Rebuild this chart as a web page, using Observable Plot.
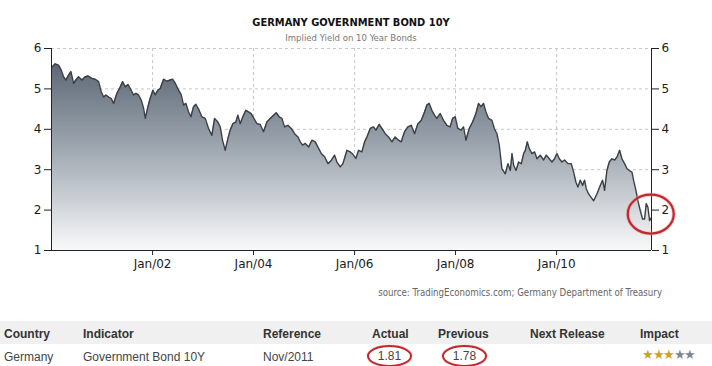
<!DOCTYPE html>
<html>
<head>
<meta charset="utf-8">
<script src="https://cdn.jsdelivr.net/npm/d3@7"></script>
<script src="https://cdn.jsdelivr.net/npm/@observablehq/plot@0.6"></script>
<style>
  html, body { margin: 0; padding: 0; background: #fff; }
  #wrap { position: relative; width: 712px; height: 366px; overflow: hidden; background: #fff; }
  #chart { position: absolute; left: 0; top: 0; }
  .title { position: absolute; left: 51px; width: 600px; text-align: center; font-family: "DejaVu Sans Condensed", "DejaVu Sans", sans-serif; font-stretch: condensed; }
  #t1 { top: 16px; font-size: 11px; font-weight: bold; color: #111; }
  #t2 { top: 32px; font-size: 9.5px; color: #777; }
  #src { position: absolute; right: 50px; top: 287px; font-family: "DejaVu Sans Condensed", "DejaVu Sans", sans-serif; font-stretch: condensed; font-size: 9.6px; color: #666; }
  .row { position: absolute; left: 0; width: 712px; font-family: "Liberation Sans", Arial, sans-serif; font-size: 12px; }
  #head { top: 321px; height: 23px; background: #f0f0f0; color: #333; font-weight: bold; }
  #data { top: 344px; height: 22px; background: #fff; color: #444; }
  .cell { position: absolute; top: 6px; white-space: nowrap; }
  .circ { position: absolute; left: 0; top: -5px; width: 41px; height: 18px; line-height: 18px; text-align: center;
          border: 2px solid #c3262c; border-radius: 50%; box-shadow: 0 0 1.5px rgba(195,38,44,0.6); }
  .star-on { color: #c9a227; }
  .star-off { color: #7f8597; }
</style>
</head>
<body>
<div id="wrap">
  <div id="chart"></div>
  <div class="title" id="t1"></div>
  <div class="title" id="t2"></div>
  <div id="src"></div>
  <div class="row" id="head"></div>
  <div class="row" id="data"></div>
</div>
<script>
// ---- data ----
const titleText = "GERMANY GOVERNMENT BOND 10Y";
const subtitleText = "Implied Yield on 10 Year Bonds";
const sourceText = "source: TradingEconomics.com; Germany Department of Treasury";

// decimal-year time stamps
const t = [
  2000.020, 2000.073, 2000.139, 2000.191, 2000.238, 2000.284, 2000.337, 2000.383, 2000.436, 2000.482,
  2000.535, 2000.601, 2000.667, 2000.719, 2000.799, 2000.865, 2000.931, 2000.983, 2001.030, 2001.076,
  2001.129, 2001.182, 2001.228, 2001.294, 2001.360, 2001.406, 2001.459, 2001.512, 2001.558, 2001.624,
  2001.670, 2001.723, 2001.776, 2001.822, 2001.855, 2001.901, 2001.941, 2002.007, 2002.053, 2002.106,
  2002.152, 2002.218, 2002.284, 2002.350, 2002.396, 2002.449, 2002.515, 2002.568, 2002.614, 2002.660,
  2002.713, 2002.759, 2002.812, 2002.858, 2002.911, 2002.977, 2003.043, 2003.109, 2003.175, 2003.228,
  2003.294, 2003.340, 2003.386, 2003.439, 2003.492, 2003.538, 2003.591, 2003.650, 2003.690, 2003.736,
  2003.789, 2003.848, 2003.901, 2003.954, 2004.007, 2004.066, 2004.132, 2004.198, 2004.264, 2004.330,
  2004.396, 2004.449, 2004.508, 2004.561, 2004.614, 2004.680, 2004.746, 2004.812, 2004.878, 2004.924,
  2004.970, 2005.023, 2005.089, 2005.155, 2005.221, 2005.274, 2005.340, 2005.406, 2005.472, 2005.538,
  2005.604, 2005.650, 2005.716, 2005.769, 2005.848, 2005.914, 2005.967, 2006.026, 2006.079, 2006.145,
  2006.198, 2006.244, 2006.310, 2006.376, 2006.422, 2006.488, 2006.541, 2006.607, 2006.673, 2006.739,
  2006.805, 2006.871, 2006.924, 2006.990, 2007.056, 2007.122, 2007.188, 2007.254, 2007.320, 2007.386,
  2007.432, 2007.479, 2007.531, 2007.584, 2007.630, 2007.696, 2007.762, 2007.828, 2007.894, 2007.941,
  2007.993, 2008.046, 2008.112, 2008.158, 2008.205, 2008.271, 2008.337, 2008.403, 2008.455, 2008.502,
  2008.554, 2008.601, 2008.653, 2008.719, 2008.766, 2008.818, 2008.865, 2008.917, 2008.983, 2009.036,
  2009.083, 2009.116, 2009.149, 2009.195, 2009.248, 2009.300, 2009.347, 2009.380, 2009.419, 2009.459,
  2009.512, 2009.564, 2009.611, 2009.677, 2009.743, 2009.795, 2009.855, 2009.908, 2009.960, 2010.007,
  2010.053, 2010.106, 2010.158, 2010.224, 2010.290, 2010.337, 2010.383, 2010.422, 2010.469, 2010.515,
  2010.554, 2010.587, 2010.634, 2010.733, 2010.799, 2010.865, 2010.911, 2010.950, 2010.997, 2011.043,
  2011.096, 2011.149, 2011.195, 2011.248, 2011.294, 2011.347, 2011.393, 2011.439, 2011.492, 2011.525,
  2011.571, 2011.611, 2011.657, 2011.703, 2011.743, 2011.776, 2011.809, 2011.842, 2011.875
];
// yield, percent
const yieldPct = [
  5.55, 5.62, 5.59, 5.47, 5.30, 5.22, 5.34, 5.43, 5.14, 5.22,
  5.30, 5.22, 5.30, 5.32, 5.26, 5.24, 5.18, 4.93, 4.80, 4.85,
  4.80, 4.76, 4.64, 4.89, 5.05, 5.18, 5.05, 5.11, 5.01, 4.85,
  4.89, 4.85, 4.72, 4.52, 4.27, 4.52, 4.72, 4.97, 4.85, 4.97,
  5.01, 5.24, 5.19, 5.22, 5.24, 5.14, 4.97, 4.85, 4.60, 4.64,
  4.43, 4.31, 4.56, 4.62, 4.50, 4.31, 4.27, 4.02, 3.85, 4.27,
  4.18, 4.06, 3.73, 3.48, 3.77, 3.98, 4.14, 4.18, 4.35, 4.14,
  4.31, 4.47, 4.43, 4.39, 4.27, 4.14, 4.12, 3.94, 4.18, 4.27,
  4.35, 4.41, 4.31, 4.27, 4.06, 4.10, 4.02, 3.89, 3.81, 3.69,
  3.61, 3.65, 3.56, 3.73, 3.69, 3.56, 3.40, 3.32, 3.15, 3.23,
  3.36, 3.19, 3.07, 3.15, 3.48, 3.44, 3.38, 3.28, 3.48, 3.44,
  3.69, 3.81, 4.02, 4.06, 3.98, 4.12, 4.02, 3.89, 3.81, 3.69,
  3.81, 3.73, 3.69, 3.94, 4.06, 4.10, 3.89, 4.14, 4.22, 4.43,
  4.60, 4.64, 4.47, 4.35, 4.27, 4.39, 4.22, 4.10, 4.06, 4.27,
  4.31, 4.02, 3.98, 4.06, 3.73, 4.02, 4.18, 4.39, 4.64, 4.56,
  4.64, 4.43, 4.27, 4.22, 4.02, 3.89, 3.60, 3.02, 2.90, 3.15,
  2.98, 3.40, 3.11, 2.98, 3.19, 3.15, 3.40, 3.48, 3.69, 3.52,
  3.40, 3.44, 3.27, 3.36, 3.24, 3.36, 3.27, 3.19, 3.27, 3.40,
  3.27, 3.19, 3.24, 3.15, 3.15, 2.94, 2.69, 2.57, 2.74, 2.61,
  2.74, 2.53, 2.40, 2.23, 2.40, 2.61, 2.74, 2.49, 2.98, 3.19,
  3.27, 3.24, 3.31, 3.48, 3.27, 3.15, 3.03, 2.98, 2.94, 2.74,
  2.49, 2.23, 1.99, 1.78, 1.78, 2.16, 2.07, 1.74, 1.81
];
const xRange = [2000.0, 2011.88];
const xTickYears = [2002, 2004, 2006, 2008, 2010];
const yTicks = [1, 2, 3, 4, 5, 6];

const tableHeaders = ["Country", "Indicator", "Reference", "Actual", "Previous", "Next Release", "Impact"];
const tableRow = ["Germany", "Government Bond 10Y", "Nov/2011", "1.81", "1.78", "", 3];
const impactMax = 5;

// ---- helpers ----
function toDate(yr) {
  const y = Math.floor(yr);
  const a = Date.UTC(y, 0, 1), b = Date.UTC(y + 1, 0, 1);
  return new Date(a + (yr - y) * (b - a));
}
const data = t.map((d, i) => ({date: toDate(d), v: yieldPct[i]}));
const xDomain = xRange.map(toDate);
const xTicks = xTickYears.map(y => toDate(y));

const font = '"DejaVu Sans", sans-serif';

const plot = Plot.plot({
  width: 712,
  height: 300,
  marginTop: 48,
  marginBottom: 50,
  marginLeft: 51,
  marginRight: 61,
  style: {fontFamily: font, fontSize: "12px", color: "#1a1a1a", background: "transparent"},
  x: {type: "utc", domain: xDomain},
  y: {domain: [1, 6]},
  marks: [
    Plot.gridY(yTicks.slice(1), {stroke: "#c6c6c6", strokeOpacity: 1, strokeDasharray: "3,3"}),
    Plot.gridX(xTicks, {stroke: "#c6c6c6", strokeOpacity: 1, strokeDasharray: "3,3"}),
    Plot.areaY(data, {x: "date", y1: 1, y2: "v", fill: "url(#bondGrad)"}),
    Plot.lineY(data, {x: "date", y: "v", stroke: "#3b3e43", strokeWidth: 1.4}),
    Plot.ruleY([1], {stroke: "#222"}),
    Plot.ruleX(xDomain, {stroke: "#222"}),
    Plot.axisY(yTicks, {anchor: "left", tickSize: 7, tickPadding: 3, label: null, stroke: "#222"}),
    Plot.axisY(yTicks, {anchor: "right", tickSize: 7, tickPadding: 3, label: null, stroke: "#222"}),
    Plot.axisX(xTicks, {anchor: "bottom", tickSize: 5, tickPadding: 4, label: null, tickFormat: d3.utcFormat("%b/%y"), stroke: "#222"})
  ]
});

const svg = d3.select(plot);
const defs = svg.insert("defs", ":first-child");
const grad = defs.append("linearGradient").attr("id", "bondGrad")
  .attr("x1", 0).attr("y1", 0).attr("x2", 0).attr("y2", 1);
grad.append("stop").attr("offset", "0%").attr("stop-color", "#5c6875");
grad.append("stop").attr("offset", "50%").attr("stop-color", "#a5adb6");
grad.append("stop").attr("offset", "100%").attr("stop-color", "#f9f9fa");

// red annotation ellipse around the latest readings
const xs = plot.scale("x"), ys = plot.scale("y");
const last = data[data.length - 1];
const recent = data.slice(-6);
const cx = xs.apply(last.date), cy = ys.apply(d3.mean(recent, d => d.v));
svg.append("ellipse").attr("cx", cx).attr("cy", cy).attr("rx", 23).attr("ry", 19.5)
  .attr("fill", "none").attr("stroke", "#e8a0a0").attr("stroke-width", 4).attr("opacity", 0.5);
svg.append("ellipse").attr("cx", cx).attr("cy", cy).attr("rx", 23).attr("ry", 19.5)
  .attr("fill", "none").attr("stroke", "#c3262c").attr("stroke-width", 2.2);

document.getElementById("chart").appendChild(plot);
document.getElementById("t1").textContent = titleText;
document.getElementById("t2").textContent = subtitleText;
document.getElementById("src").textContent = sourceText;

// table
const colX = [4, 83, 263, 372, 438, 530, 640];
const head = document.getElementById("head");
tableHeaders.forEach((h, i) => {
  const s = document.createElement("span");
  s.className = "cell"; s.style.left = colX[i] + "px"; s.textContent = h;
  head.appendChild(s);
});
const row = document.getElementById("data");
const dataX = [4, 83, 263, 367, 442, 530, 642];
tableRow.forEach((v, i) => {
  const s = document.createElement("span");
  s.className = "cell"; s.style.left = dataX[i] + "px";
  if (i === 3 || i === 4) {
    const c = document.createElement("span");
    c.className = "circ"; c.textContent = v; s.appendChild(c);
  } else if (i === 6) {
    for (let k = 0; k < impactMax; k++) {
      const st = document.createElement("span");
      st.className = k < v ? "star-on" : "star-off";
      st.textContent = "★";
      s.appendChild(st);
    }
    s.style.fontSize = "13px";
    s.style.letterSpacing = "-1.5px";
    s.style.top = "3px";
  } else {
    s.textContent = v;
  }
  row.appendChild(s);
});
</script>
</body>
</html>
